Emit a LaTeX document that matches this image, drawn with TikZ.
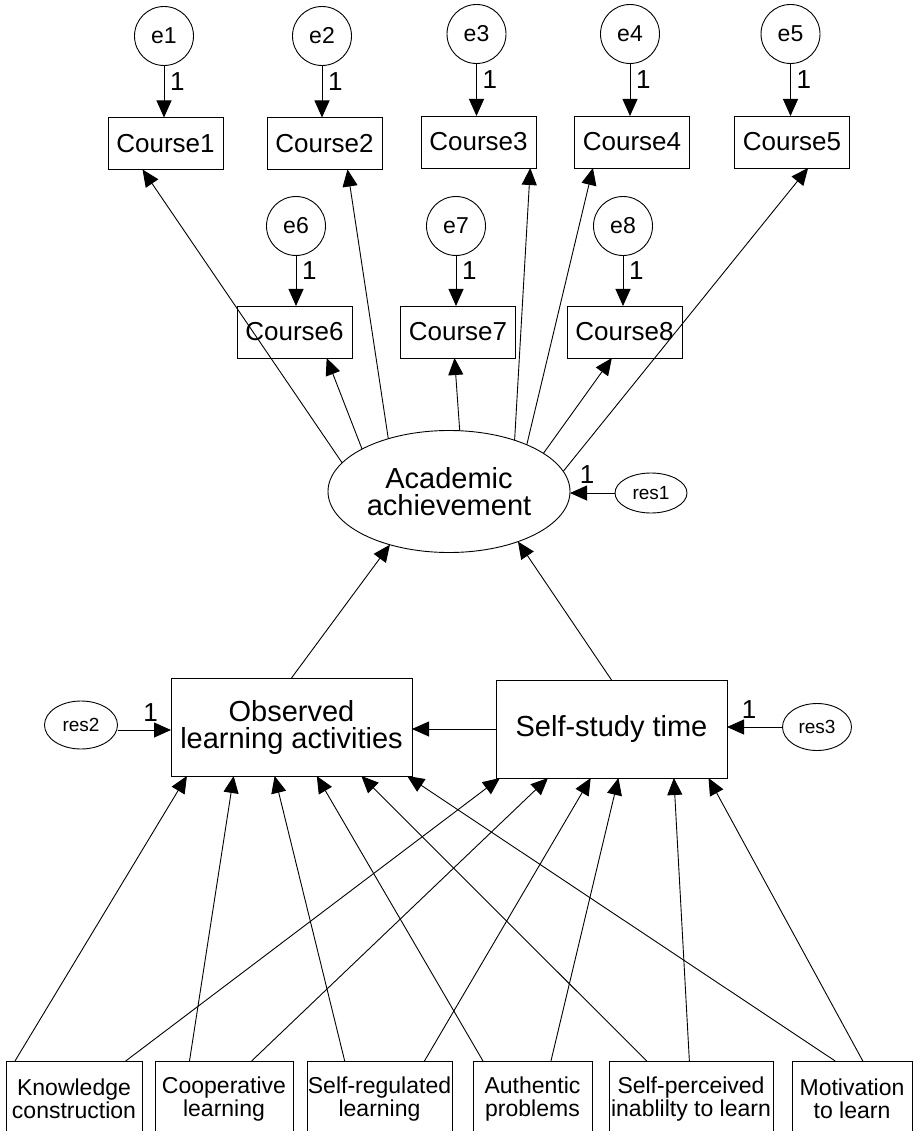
\documentclass[tikz,border=0pt]{standalone}
\usepackage{fontspec}
\setmainfont{Liberation Sans}
\usetikzlibrary{arrows.meta,calc,shapes.geometric}
\begin{document}
\begin{tikzpicture}[x=1pt,y=-1pt,
  every node/.style={inner sep=0pt, outer sep=0pt},
  box/.style={draw, line width=0.9pt},
  link/.style={line width=0.9pt, -{Triangle[length=17pt,width=15pt]}},
  errc/.style={box, circle, minimum size=59pt, font=\fontsize{23}{25}\selectfont},
  course/.style={box, rectangle, minimum width=115pt, minimum height=52pt, font=\fontsize{26}{28}\selectfont},
  resid/.style={box, ellipse, minimum width=72pt, minimum height=46pt, font=\fontsize{19}{21}\selectfont},
  mediator/.style={box, rectangle, minimum height=98pt, align=center, font=\fontsize{29}{27}\selectfont},
  pred/.style={box, rectangle, minimum height=76pt, align=center, font=\fontsize{23}{23}\selectfont},
  one/.style={font=\fontsize{26}{28}\selectfont}
]
\useasboundingbox (0,0) rectangle (916,1131);

% measurement errors and course grades
\node[errc] (e1) at (164,36) {e1};
\node[errc] (e2) at (322,36) {e2};
\node[errc] (e3) at (476.5,34) {e3};
\node[errc] (e4) at (630,34) {e4};
\node[errc] (e5) at (790.5,34) {e5};
\node[course] (c1) at (165.5,143.5) {Course1};
\node[course] (c2) at (324.5,143.5) {Course2};
\node[course] (c3) at (478.5,142) {Course3};
\node[course] (c4) at (632,142) {Course4};
\node[course] (c5) at (792,142) {Course5};

\node[errc] (e6) at (296,226) {e6};
\node[errc] (e7) at (456,226) {e7};
\node[errc] (e8) at (623,226) {e8};
\node[course] (c6) at (294.5,332) {Course6};
\node[course] (c7) at (458,332) {Course7};
\node[course] (c8) at (624.5,332) {Course8};

% latent outcome
\node[box, ellipse, minimum width=242pt, minimum height=122pt, align=center,
      font=\fontsize{29}{27}\selectfont] (aa) at (449,491.5) {Academic\\achievement};
\node[resid, minimum height=40pt] (res1) at (651,493) {res1};

% mediators
\node[mediator, minimum width=241pt] (ol) at (291.5,727) {Observed\\learning activities};
\node[mediator, minimum width=231pt] (ss) at (611.5,729) {Self-study time};
\node[resid, minimum width=73pt, minimum height=48pt] (res2) at (81,725) {res2};
\node[resid, minimum width=69pt, minimum height=47pt] (res3) at (817,727) {res3};

% predictors
\node[pred, minimum width=136pt] (kc) at (74,1099) {Knowledge\\construction};
\node[pred, minimum width=138pt] (cl) at (224,1099) {Cooperative\\learning};
\node[pred, minimum width=145pt] (sr) at (379.5,1099) {Self-regulated\\learning};
\node[pred, minimum width=119pt] (ap) at (532.5,1099) {Authentic\\problems};
\node[pred, minimum width=164pt] (sp) at (691,1099) {Self-perceived\\inablilty to learn};
\node[pred, minimum width=120pt] (ml) at (852,1099) {Motivation\\to learn};

% error paths fixed to 1
\foreach \e/\c in {e1/c1,e2/c2,e3/c3,e4/c4,e5/c5,e6/c6,e7/c7,e8/c8}
  \draw[link] (\e) -- (\e |- \c.north) node[pos=0.3, anchor=west, xshift=6pt, one] {1};

% loadings of the latent outcome
\draw[link] (aa.165.5) -- ($(c1.south west)!0.30!(c1.south east)$);
\draw[link] (aa.154)   -- ($(c6.south west)!0.78!(c6.south east)$);
\draw[link] (aa.139.2) -- ($(c2.south west)!0.70!(c2.south east)$);
\draw[link] (aa.80.6)  -- ($(c7.south west)!0.47!(c7.south east)$);
\draw[link] (aa.38.5)  -- ($(c3.south west)!0.95!(c3.south east)$);
\draw[link] (aa.31.9)  -- ($(c4.south west)!0.16!(c4.south east)$);
\draw[link] (aa.22.8)  -- ($(c8.south west)!0.39!(c8.south east)$);
\draw[link] (aa.10)    -- ($(c5.south west)!0.64!(c5.south east)$);

% residual paths
\draw[link] (res1.west) -- (res1.west -| aa.east) node[pos=0.62, anchor=south, yshift=10pt, one] {1};
\draw[link] (res2.east) ++(0,5) coordinate (r2) (r2) -- (r2 -| ol.west) node[pos=0.62, anchor=south, yshift=9pt, one] {1};
\draw[link] (res3.west) -- (res3.west -| ss.east) node[pos=0.6, anchor=south, yshift=9pt, one] {1};

% structural paths
\draw[link] (ss.west) -- (ss.west -| ol.east);
\draw[link] (ol.north) -- (aa.222.7);
\draw[link] (ss.north) -- (aa.324.2);

% predictor paths
\draw[link] ($(kc.north west)!0.066!(kc.north east)$) -- ($(ol.south west)!0.066!(ol.south east)$);
\draw[link] ($(kc.north west)!0.88!(kc.north east)$)  -- ($(ss.south west)!0.017!(ss.south east)$);
\draw[link] ($(cl.north west)!0.25!(cl.north east)$)  -- ($(ol.south west)!0.26!(ol.south east)$);
\draw[link] ($(cl.north west)!0.70!(cl.north east)$)  -- ($(ss.south west)!0.225!(ss.south east)$);
\draw[link] ($(sr.north west)!0.26!(sr.north east)$)  -- ($(ol.south west)!0.43!(ol.south east)$);
\draw[link] ($(sr.north west)!0.81!(sr.north east)$)  -- ($(ss.south west)!0.41!(ss.south east)$);
\draw[link] ($(ap.north west)!0.084!(ap.north east)$) -- ($(ol.south west)!0.605!(ol.south east)$);
\draw[link] ($(ap.north west)!0.655!(ap.north east)$) -- ($(ss.south west)!0.53!(ss.south east)$);
\draw[link] ($(sp.north west)!0.23!(sp.north east)$)  -- ($(ol.south west)!0.79!(ol.south east)$);
\draw[link] ($(sp.north west)!0.49!(sp.north east)$)  -- ($(ss.south west)!0.77!(ss.south east)$);
\draw[link] ($(ml.north west)!0.36!(ml.north east)$)  -- ($(ol.south west)!0.98!(ol.south east)$);
\draw[link] ($(ml.north west)!0.59!(ml.north east)$)  -- ($(ss.south west)!0.92!(ss.south east)$);
\end{tikzpicture}
\end{document}
